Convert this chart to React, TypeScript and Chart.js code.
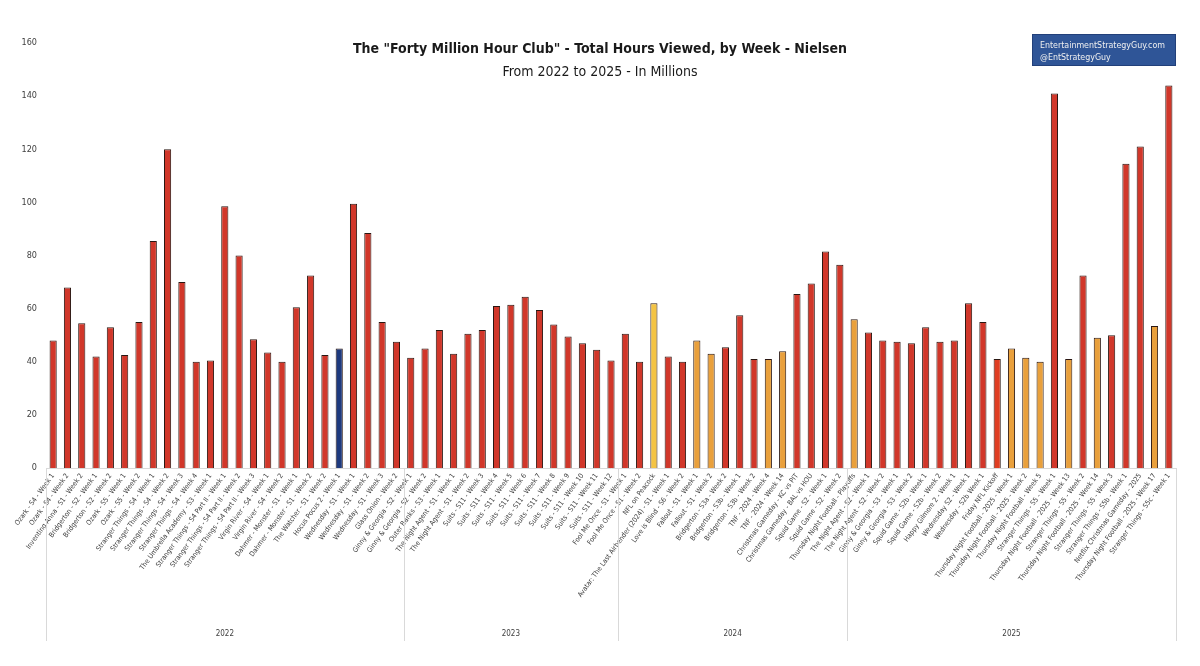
import React, { useEffect, useRef } from 'react';
import { Chart, registerables } from 'chart.js';

Chart.register(...registerables);

const labels2022 = [
  'Ozark - S4 - Week 1', 'Ozark - S4 - Week 2', 'Inventing Anna - S1 - Week 2', 'Bridgerton - S2 - Week 1',
  'Bridgerton - S2 - Week 2', 'Ozark - S5 - Week 1', 'Ozark - S5 - Week 2', 'Stranger Things - S4 - Week 1',
  'Stranger Things - S4 - Week 2', 'Stranger Things - S4 - Week 3', 'Stranger Things - S4 - Week 4',
  'The Umbrella Academy - S3 - Week 1', 'Stranger Things - S4 Part II - Week 1', 'Stranger Things - S4 Part II - Week 2',
  'Stranger Things - S4 Part II - Week 3', 'Virgin River - S4 - Week 1', 'Virgin River - S4 - Week 2',
  'Dahmer - Monster - S1 - Week 1', 'Dahmer - Monster - S1 - Week 2', 'The Watcher - S1 - Week 2',
  'Hocus Pocus 2 - Week 1', 'Wednesday - S1 - Week 1', 'Wednesday - S1 - Week 2', 'Wednesday - S1 - Week 3',
  'Glass Onion - Week 2',
];
const labels2023 = [
  'Ginny & Georgia - S2 - Week 1', 'Ginny & Georgia - S2 - Week 2', 'Outer Banks - S3 - Week 1',
  'The Night Agent - S1 - Week 1', 'The Night Agent - S1 - Week 2', 'Suits - S11 - Week 3', 'Suits - S11 - Week 4',
  'Suits - S11 - Week 5', 'Suits - S11 - Week 6', 'Suits - S11 - Week 7', 'Suits - S11 - Week 8',
  'Suits - S11 - Week 9', 'Suits - S11 - Week 10', 'Suits - S11 - Week 11', 'Suits - S11 - Week 12',
];
const labels2024 = [
  'Fool Me Once - S1 - Week 1', 'Fool Me Once - S1 - Week 2', 'NFL on Peacock',
  'Avatar: The Last Airbender (2024) - S1 - Week 1', 'Love is Blind - S6 - Week 2', 'Fallout - S1 - Week 1',
  'Fallout - S1 - Week 2', 'Bridgerton - S3a - Week 2', 'Bridgerton - S3b - Week 1', 'Bridgerton - S3b - Week 2',
  'TNF - 2024 - Week 4', 'TNF - 2024 - Week 14', 'Christmas Gameday - KC vs PIT', 'Christmas Gameday - BAL vs HOU',
  'Squid Game - S2 - Week 1', 'Squid Game - S2 - Week 2',
];
const labels2025 = [
  'Thursday Night Football - Playoffs', 'The Night Agent - S2 - Week 1', 'The Night Agent - S2 - Week 2',
  'Ginny & Georgia - S3 - Week 1', 'Ginny & Georgia - S3 - Week 2', 'Squid Game - S2b - Week 1',
  'Squid Game - S2b - Week 2', 'Happy Gilmore 2 - Week 1', 'Wednesday S2 - Week 1', 'Wednesday - S2b Week 1',
  'Friday NFL Kickoff', 'Thursday Night Football - 2025 - Week 1', 'Thursday Night Football - 2025 - Week 2',
  'Thursday Night Football - Week 5', 'Stranger Things - S5 - Week 1', 'Thursday Night Football - 2025 - Week 13',
  'Stranger Things - S5 - Week 2', 'Thursday Night Football - 2025 - Week 14', 'Stranger Things - S5 - Week 3',
  'Stranger Things - S5b - Week 1', 'Netflix Christmas Gameday - 2025', 'Thursday Night Football - 2025 - Week 17',
  'Stranger Things - S5c - Week 1',
];

const values2022 = [48, 68, 54.5, 42, 53, 42.5, 55, 85.5, 120, 70, 40, 40.5, 98.5, 80, 48.5, 43.5, 40, 60.5, 72.5, 42.5, 45, 99.5, 88.5, 55, 47.5];
const values2023 = [41.5, 45, 52, 43, 50.5, 52, 61, 61.5, 64.5, 59.5, 54, 49.5, 47, 44.5, 40.5];
const values2024 = [50.5, 40, 62, 42, 40, 48, 43, 45.5, 57.5, 41, 41, 44, 65.5, 69.5, 81.5, 76.5];
const values2025 = [56, 51, 48, 47.5, 47, 53, 47.5, 48, 62, 55, 41, 45, 41.5, 40, 141, 41, 72.5, 49, 50, 114.5, 121, 53.5, 144];

const platforms2022 = ['N', 'N', 'N', 'N', 'N', 'N', 'N', 'N', 'N', 'N', 'N', 'N', 'N', 'N', 'N', 'N', 'N', 'N', 'N', 'N', 'D', 'N', 'N', 'N', 'N'];
const platforms2023 = ['N', 'N', 'N', 'N', 'N', 'N', 'N', 'N', 'N', 'N', 'N', 'N', 'N', 'N', 'N'];
const platforms2024 = ['N', 'N', 'P', 'N', 'N', 'A', 'A', 'N', 'N', 'N', 'A', 'A', 'N', 'N', 'N', 'N'];
const platforms2025 = ['A', 'N', 'N', 'N', 'N', 'N', 'N', 'N', 'N', 'N', 'Y', 'A', 'A', 'A', 'N', 'A', 'N', 'A', 'N', 'N', 'N', 'A', 'N'];

const years = ['2022', '2023', '2024', '2025'];
const yearCounts = [labels2022.length, labels2023.length, labels2024.length, labels2025.length];

const categories = [...labels2022, ...labels2023, ...labels2024, ...labels2025];
const values = [...values2022, ...values2023, ...values2024, ...values2025];
const platforms = [...platforms2022, ...platforms2023, ...platforms2024, ...platforms2025];

const yMin = 0;
const yMax = 160;
const yStep = 20;

const COLORS: Record<string, string> = {
  N: '#D1372A',
  A: '#E9A03C',
  P: '#F4C444',
  D: '#1E3A7E',
  Y: '#E03E22',
};

const FONT = "'DejaVu Sans Condensed', 'Liberation Sans Narrow', 'Roboto Condensed', 'Roboto', sans-serif";

const yearPlugin = {
  id: 'yearGroups',
  afterDraw(chart: any) {
    const { ctx, chartArea } = chart;
    const x = chart.scales.x;
    const bottom = 641;
    const bounds: number[] = [chartArea.left];
    let idx = 0;
    yearCounts.forEach((n) => {
      idx += n;
      if (idx >= categories.length) bounds.push(chartArea.right);
      else bounds.push((x.getPixelForValue(idx - 1) + x.getPixelForValue(idx)) / 2);
    });
    ctx.save();
    ctx.strokeStyle = '#d9d9d9';
    ctx.lineWidth = 1;
    bounds.forEach((b) => {
      const px = Math.round(b) + 0.5;
      ctx.beginPath();
      ctx.moveTo(px, chartArea.bottom);
      ctx.lineTo(px, bottom);
      ctx.stroke();
    });
    ctx.fillStyle = '#404040';
    ctx.font = `8px ${FONT}`;
    ctx.textAlign = 'center';
    ctx.textBaseline = 'middle';
    years.forEach((yr, i) => {
      ctx.fillText(yr, (bounds[i] + bounds[i + 1]) / 2, 634);
    });
    ctx.restore();
  },
};

export default function App() {
  const canvasRef = useRef<HTMLCanvasElement | null>(null);

  useEffect(() => {
    if (!canvasRef.current) return;
    const chart = new Chart(canvasRef.current, {
      type: 'bar',
      data: {
        labels: categories,
        datasets: [
          {
            data: values,
            backgroundColor: platforms.map((p) => COLORS[p]),
            borderColor: '#2a1712',
            borderWidth: 1,
            barPercentage: 0.5,
            categoryPercentage: 1,
          },
        ],
      },
      options: {
        animation: false,
        responsive: true,
        maintainAspectRatio: false,
        layout: { padding: { top: 43, right: 24, left: 0, bottom: 0 } },
        plugins: {
          legend: { display: false },
          tooltip: { enabled: false },
          title: { display: false },
        },
        scales: {
          x: {
            grid: { display: false, drawTicks: false },
            border: { display: true, color: '#d9d9d9', width: 1 },
            ticks: {
              autoSkip: false,
              minRotation: 54,
              maxRotation: 54,
              color: '#404040',
              padding: 4,
              font: { family: FONT, size: 7 },
            },
            afterFit(scale: any) {
              scale.height = 198;
            },
          },
          y: {
            min: yMin,
            max: yMax,
            grid: { display: false, drawTicks: false },
            border: { display: false },
            ticks: {
              stepSize: yStep,
              color: '#404040',
              padding: 9,
              font: { family: FONT, size: 9 },
            },
            afterFit(scale: any) {
              scale.width = 46;
            },
          },
        },
      },
      plugins: [yearPlugin],
    });
    return () => chart.destroy();
  }, []);

  return (
    <div style={{ position: 'fixed', left: 0, top: 0, width: 1200, height: 666, background: '#fff', fontFamily: FONT }}>
      <canvas ref={canvasRef} style={{ position: 'absolute', left: 0, top: 0, width: 1200, height: 666 }} />
      <div
        style={{
          position: 'absolute', left: 0, width: 1200, top: 39, textAlign: 'center',
          fontSize: 14, fontWeight: 'bold', color: '#1a1a1a', lineHeight: '18px',
        }}
      >
        The "Forty Million Hour Club" - Total Hours Viewed, by Week - Nielsen
      </div>
      <div
        style={{
          position: 'absolute', left: 0, width: 1200, top: 62, textAlign: 'center',
          fontSize: 14, color: '#1a1a1a', lineHeight: '18px',
        }}
      >
        From 2022 to 2025 - In Millions
      </div>
      <div
        style={{
          position: 'absolute', left: 1032, top: 34, width: 144, height: 32, boxSizing: 'border-box',
          background: '#2F5597', border: '1px solid #22407a', color: '#f0f0f0', fontSize: 8.8,
          lineHeight: '12px', padding: '4px 0 0 7px', whiteSpace: 'nowrap', overflow: 'hidden',
        }}
      >
        <div>EntertainmentStrategyGuy.com</div>
        <div>@EntStrategyGuy</div>
      </div>
    </div>
  );
}
